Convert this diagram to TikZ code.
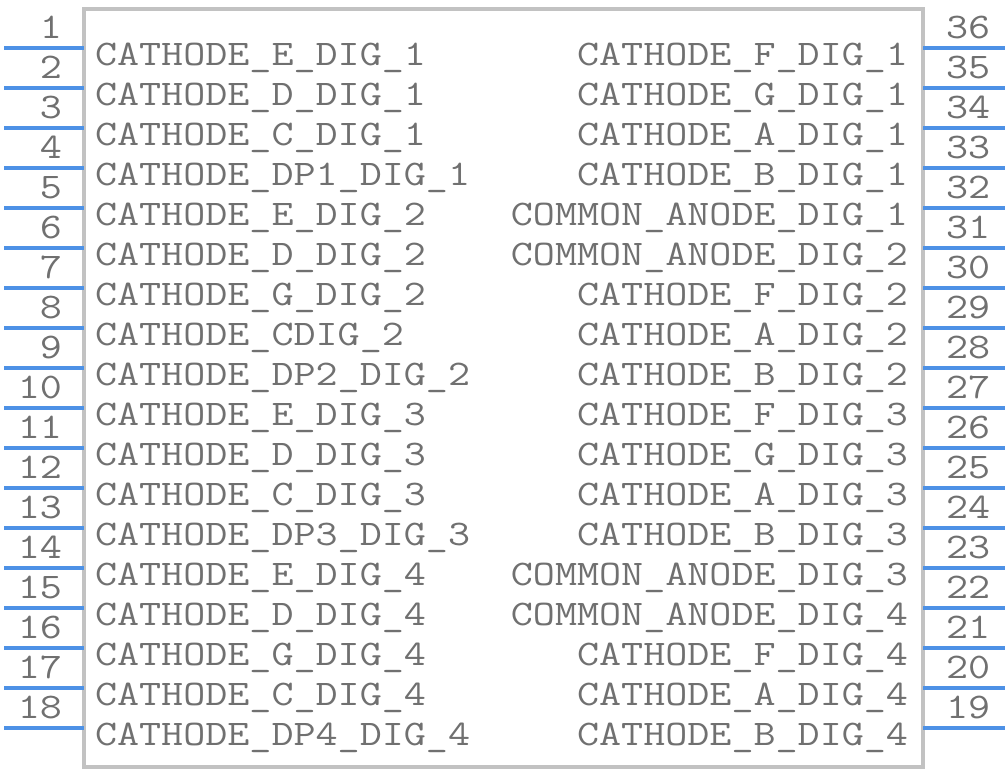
\documentclass[tikz,border=0pt]{standalone}
\usepackage{fontspec}
\usepackage{graphicx}
\usepackage{tikz}
\usetikzlibrary{calc}
\usetikzlibrary{positioning}
\definecolor{pincolour}{RGB}{77,145,230}
\definecolor{bodycolour}{RGB}{194,194,194}
\definecolor{textcolour}{RGB}{112,112,112}
\newcommand\pinwd{3.5pt}
\newcommand\bodywd{4pt}
\newcommand\pinlen{80}
\newcommand\rowsep{40}
\newcommand\widetype[1]{\scalebox{1.19}[1]{#1}}
\tikzset{
  pinline/.style={line width=\pinwd, color=pincolour},
  body/.style={line width=\bodywd, color=bodycolour},
  pintext/.style={inner sep=0pt, outer sep=0pt, text=textcolour,
    font=\ttfamily\fontsize{36}{36}\selectfont},
}

\begin{document}
\begin{tikzpicture}[x=1pt,y=-1pt]
  \useasboundingbox (0,0) rectangle (1008,772);
  % body
  \coordinate (bodynw) at (84,9);
  \coordinate (bodyse) at (923,767);
  \draw[body] (bodynw) rectangle (bodyse);
  % left pins
  \foreach \i/\lbl in {1/CATHODE\_E\_DIG\_1, 2/CATHODE\_D\_DIG\_1, 3/CATHODE\_C\_DIG\_1,
      4/CATHODE\_DP1\_DIG\_1, 5/CATHODE\_E\_DIG\_2, 6/CATHODE\_D\_DIG\_2,
      7/CATHODE\_G\_DIG\_2, 8/CATHODE\_CDIG\_2, 9/CATHODE\_DP2\_DIG\_2,
      10/CATHODE\_E\_DIG\_3, 11/CATHODE\_D\_DIG\_3, 12/CATHODE\_C\_DIG\_3,
      13/CATHODE\_DP3\_DIG\_3, 14/CATHODE\_E\_DIG\_4, 15/CATHODE\_D\_DIG\_4,
      16/CATHODE\_G\_DIG\_4, 17/CATHODE\_C\_DIG\_4, 18/CATHODE\_DP4\_DIG\_4}{
    \coordinate (pin\i in) at (84,{48+\rowsep*(\i-1)});
    \coordinate (pin\i out) at ($(pin\i in)-(\pinlen,0)$);
    \draw[pinline] (pin\i out) -- (pin\i in);
    \node[pintext, anchor=base east] (num\i) at ($(pin\i in)+(-22,-10)$) {\widetype{\i}};
    \node[pintext, anchor=base west] (name\i) at ($(pin\i in)+(11,17)$) {\widetype{\lbl}};
  }
  % right pins
  \foreach \i/\lbl in {36/CATHODE\_F\_DIG\_1, 35/CATHODE\_G\_DIG\_1, 34/CATHODE\_A\_DIG\_1,
      33/CATHODE\_B\_DIG\_1, 32/COMMON\_ANODE\_DIG\_1, 31/COMMON\_ANODE\_DIG\_2,
      30/CATHODE\_F\_DIG\_2, 29/CATHODE\_A\_DIG\_2, 28/CATHODE\_B\_DIG\_2,
      27/CATHODE\_F\_DIG\_3, 26/CATHODE\_G\_DIG\_3, 25/CATHODE\_A\_DIG\_3,
      24/CATHODE\_B\_DIG\_3, 23/COMMON\_ANODE\_DIG\_3, 22/COMMON\_ANODE\_DIG\_4,
      21/CATHODE\_F\_DIG\_4, 20/CATHODE\_A\_DIG\_4, 19/CATHODE\_B\_DIG\_4}{
    \coordinate (pin\i in) at (923,{48+\rowsep*(36-\i)});
    \coordinate (pin\i out) at ($(pin\i in)+(\pinlen+2,0)$);
    \draw[pinline] (pin\i in) -- (pin\i out);
    \node[pintext, anchor=base west] (num\i) at ($(pin\i in)+(23,-10)$) {\widetype{\i}};
    \node[pintext, anchor=base east] (name\i) at ($(pin\i in)+(-15,17)$) {\widetype{\lbl}};
  }
\end{tikzpicture}
\end{document}
